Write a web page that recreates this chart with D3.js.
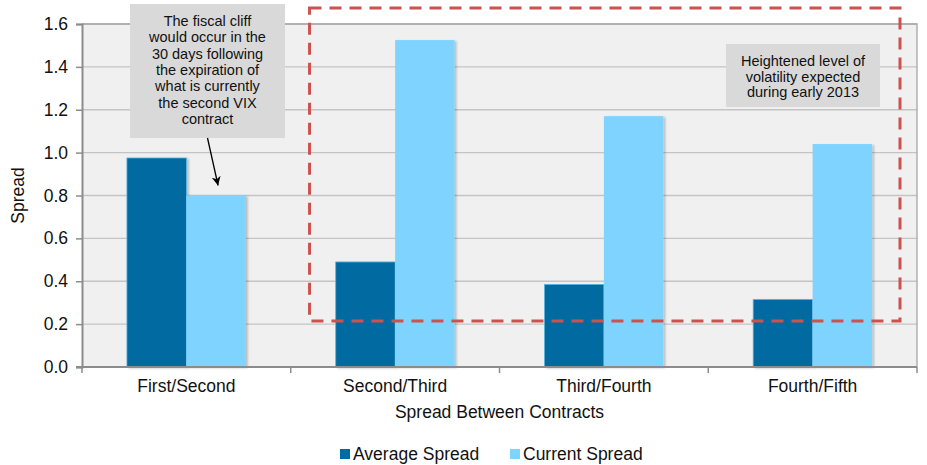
<!DOCTYPE html>
<html>
<head>
<meta charset="utf-8">
<script src="https://cdn.jsdelivr.net/npm/d3@7"></script>
<style>
  html, body { margin: 0; padding: 0; background: #ffffff; }
  svg { display: block; font-family: "Liberation Sans", Arial, sans-serif; }
</style>
</head>
<body>
<svg id="chart" width="927" height="465"></svg>
<script>
// Spread between consecutive VIX futures contracts
const categories = ["First/Second", "Second/Third", "Third/Fourth", "Fourth/Fifth"];
const seriesNames = ["Average Spread", "Current Spread"];
const averageSpread = [0.975, 0.49, 0.385, 0.315];
const currentSpread = [0.80, 1.525, 1.17, 1.04];
const yTicks = [0.0, 0.2, 0.4, 0.6, 0.8, 1.0, 1.2, 1.4, 1.6];
const colors = ["#006BA1", "#7FD3FF"];

const noteLeft = ["The fiscal cliff", "would occur in the", "30 days following",
                  "the expiration of", "what is currently", "the second VIX", "contract"];
const noteRight = ["Heightened level of", "volatility expected", "during early 2013"];

const svg = d3.select("#chart");
const W = 927, H = 465;
const m = { left: 82, right: 10, top: 24, bottom: 98 };
const plotW = W - m.left - m.right;
const plotH = H - m.top - m.bottom;

const x = d3.scaleBand().domain(categories).range([m.left, m.left + plotW]).padding(0);
const xs = d3.scaleBand().domain(seriesNames).range([0, x.bandwidth()])
  .paddingInner(0).paddingOuter(0.756);
const y = d3.scaleLinear().domain([0, 1.6]).range([m.top + plotH, m.top]);

const defs = svg.append("defs");
const shadow = defs.append("filter").attr("id", "shadow")
  .attr("x", "-20%").attr("y", "-5%").attr("width", "140%").attr("height", "110%");
shadow.append("feDropShadow").attr("dx", 2).attr("dy", 1).attr("stdDeviation", 1.2)
  .attr("flood-color", "#000").attr("flood-opacity", 0.22);

// plot background
svg.append("rect")
  .attr("x", m.left).attr("y", m.top).attr("width", plotW).attr("height", plotH)
  .attr("fill", "#F0F0F0");

// horizontal gridlines
svg.append("g").selectAll("line").data(yTicks.slice(1)).join("line")
  .attr("x1", m.left).attr("x2", m.left + plotW)
  .attr("y1", d => y(d)).attr("y2", d => y(d))
  .attr("stroke", "#C4C4C4").attr("stroke-width", 1.3);

// plot border (top/right)
svg.append("path")
  .attr("d", `M${m.left},${m.top}H${m.left + plotW}V${m.top + plotH}`)
  .attr("fill", "none").attr("stroke", "#A6A6A6").attr("stroke-width", 1.3);

// bars
const values = [averageSpread, currentSpread];
const groups = svg.append("g").selectAll("g").data(categories).join("g")
  .attr("transform", d => `translate(${x(d)},0)`);
groups.selectAll("rect")
  .data((c, i) => seriesNames.map((s, k) => ({ s, k, v: values[k][i] })))
  .join("rect")
  .attr("x", d => xs(d.s))
  .attr("width", xs.bandwidth())
  .attr("y", d => y(d.v))
  .attr("height", d => y(0) - y(d.v))
  .attr("fill", d => colors[d.k])
  .attr("filter", "url(#shadow)")
  .attr("stroke", d => d.k === 0 ? "#5BB3E0" : "none")
  .attr("stroke-width", 0.8);

// y axis
const yAxis = svg.append("g").attr("transform", `translate(${m.left},0)`)
  .call(d3.axisLeft(y).tickValues(yTicks).tickFormat(d3.format(".1f")).tickSize(6).tickPadding(8));
yAxis.select(".domain").attr("stroke", "#8C8C8C").attr("stroke-width", 2);
yAxis.selectAll(".tick line").attr("stroke", "#8C8C8C").attr("stroke-width", 1.5);
yAxis.selectAll(".tick text").attr("font-size", 17.5).attr("fill", "#111")
  .attr("font-family", "'Liberation Sans', Arial, sans-serif");

// x axis with ticks at category boundaries
const xAxisG = svg.append("g").attr("transform", `translate(0,${y(0)})`);
xAxisG.append("line").attr("x1", m.left - 6).attr("x2", m.left + plotW)
  .attr("stroke", "#8C8C8C").attr("stroke-width", 2);
const bounds = categories.map(c => x(c)).concat([x.range()[1]]);
xAxisG.selectAll("line.tk").data(bounds).join("line").attr("class", "tk")
  .attr("x1", d => d).attr("x2", d => d).attr("y1", 0).attr("y2", 6)
  .attr("stroke", "#8C8C8C").attr("stroke-width", 1.5);
xAxisG.selectAll("text").data(categories).join("text")
  .attr("x", d => x(d) + x.bandwidth() / 2).attr("y", 25)
  .attr("text-anchor", "middle").attr("font-size", 17.5).attr("fill", "#111")
  .text(d => d);

// axis titles
svg.append("text")
  .attr("x", m.left + plotW / 2).attr("y", 418)
  .attr("text-anchor", "middle").attr("font-size", 17.5).attr("fill", "#111")
  .text("Spread Between Contracts");
svg.append("text")
  .attr("transform", `translate(24,${m.top + plotH / 2}) rotate(-90)`)
  .attr("text-anchor", "middle").attr("font-size", 17.5).attr("fill", "#111")
  .text("Spread");

// legend
const legend = svg.append("g").attr("transform", "translate(340,449)");
const legItems = legend.selectAll("g").data(seriesNames).join("g")
  .attr("transform", (d, i) => `translate(${i * 170},0)`);
legItems.append("rect").attr("width", 10).attr("height", 10).attr("fill", (d, i) => colors[i]);
legItems.append("text").attr("x", 13).attr("y", 11)
  .attr("font-size", 17.5).attr("fill", "#111").text(d => d);

// dashed highlight around the later contracts
const hx0 = x(categories[1]) + 0.09 * x.bandwidth();
const hx1 = x.range()[1] - 17;
svg.append("rect")
  .attr("x", hx0).attr("y", y(1.675))
  .attr("width", hx1 - hx0).attr("height", y(0.215) - y(1.675))
  .attr("fill", "none").attr("stroke", "#CC5250").attr("stroke-width", 3)
  .attr("stroke-dasharray", "12,8");

// callout boxes
function callout(x0, y0, w, h, lines, firstBase, lineH) {
  svg.append("rect").attr("x", x0).attr("y", y0).attr("width", w).attr("height", h)
    .attr("fill", "#D9D9D9");
  svg.append("g").selectAll("text").data(lines).join("text")
    .attr("x", x0 + w / 2).attr("y", (d, i) => firstBase + i * lineH)
    .attr("text-anchor", "middle").attr("font-size", 14.5).attr("fill", "#111")
    .text(d => d);
}
callout(130, 4, 155, 134, noteLeft, 26, 16.3);
callout(726, 44, 154, 63, noteRight, 66, 15.5);

// arrow pointing at the current first/second spread
defs.append("marker").attr("id", "arrow").attr("viewBox", "0 0 10 10")
  .attr("refX", 10).attr("refY", 5).attr("markerWidth", 9).attr("markerHeight", 9)
  .attr("markerUnits", "userSpaceOnUse").attr("orient", "auto")
  .append("path").attr("d", "M0,0L10,5L0,10L3,5Z").attr("fill", "#000");
const bx = x(categories[0]) + xs(seriesNames[1]) + xs.bandwidth() / 2;
svg.append("line")
  .attr("x1", 207.5).attr("y1", 138)
  .attr("x2", bx + 2).attr("y2", y(currentSpread[0]) - 10)
  .attr("stroke", "#000").attr("stroke-width", 1.3)
  .attr("marker-end", "url(#arrow)");
</script>
</body>
</html>
